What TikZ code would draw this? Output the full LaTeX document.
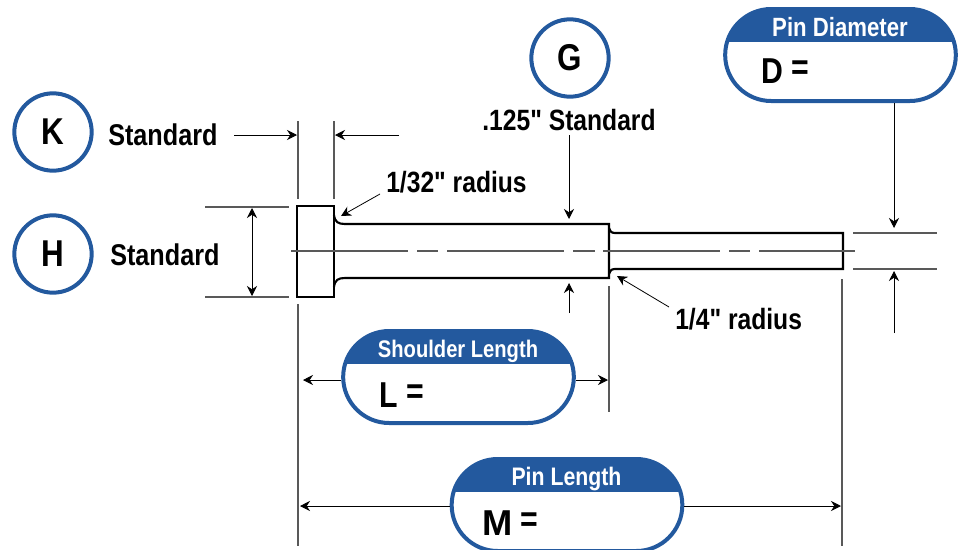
\documentclass[tikz,border=0pt]{standalone}
\usepackage{fontspec}
\setmainfont{Liberation Sans}[FakeStretch=0.84,Ligatures=TeXOff]
\usetikzlibrary{arrows.meta,shapes.misc}
\definecolor{pinblue}{HTML}{23599E}
\tikzset{
	outline/.style={line width=1.6pt, black},
	thin line/.style={line width=0.8pt, black!65},
	dim/.style={line width=0.6pt, black, -{Stealth[length=7.5pt,width=7.5pt]}},
	dimboth/.style={line width=0.6pt, black, {Stealth[length=7.5pt,width=7.5pt]}-{Stealth[length=7.5pt,width=7.5pt]}},
	label/.style={font=\bfseries\fontsize{22}{22}\selectfont, inner sep=0pt},
	stdlabel/.style={font=\bfseries\fontsize{22.5}{22.5}\selectfont, inner sep=0pt},
	title/.style={font=\bfseries\fontsize{#1}{#1}\selectfont, text=white, inner sep=0pt, anchor=base},
	letter/.style={font=\bfseries\fontsize{27}{27}\selectfont, inner sep=0pt},
	badge/.style={circle, draw=pinblue, line width=3pt, minimum size=58pt, inner sep=0pt, font=\bfseries\fontsize{28}{28}\selectfont},
	pill/.style={rounded rectangle, draw=pinblue, line width=3pt, minimum width=173pt, minimum height=69pt, inner sep=0pt,
		path picture={\fill[pinblue] (path picture bounding box.north west) rectangle ([yshift=-25pt]path picture bounding box.north east);}},
}
\newcommand{\raisedeq}{\raisebox{2.5pt}{=}}
\begin{document}
\begin{tikzpicture}[x=0.75pt, y=-0.75pt]
		\useasboundingbox (0, 0) rectangle (965, 550);

		%%%%% BADGES %%%%%
		\node[badge] (k) at (53, 132) {K};
		\node[badge] (h) at (53, 254) {H};
		\node[badge] (g) at (570, 58) {G};

		\node[stdlabel, anchor=west] (kstd) at (108, 135) {Standard};
		\node[stdlabel, anchor=west] (hstd) at (110, 255) {Standard};
		\node[label] (gstd) at (569, 120) {.125" Standard};
		\node[label, anchor=west] (rad32) at (386, 182) {1/32" radius};
		\node[label, anchor=west] (rad14) at (675, 319) {1/4" radius};

		%%%%% PIN %%%%%
		\draw[outline] (297, 206) rectangle (334, 297);
		\draw[outline] (334, 215) .. controls (335, 222) and (338, 224) .. (345, 224) -- (609, 224) -- (609, 278) -- (345, 278) .. controls (338, 278) and (335, 280) .. (334, 287);
		\draw[outline] (609, 228) .. controls (610, 231) and (611, 233) .. (615, 233) -- (843, 233) -- (843, 269) -- (615, 269) .. controls (611, 269) and (610, 271) .. (609, 274);
		\draw[thin line] (291, 251) -- (408, 251);
		\draw[thin line] (417, 251) -- (438, 251);
		\draw[thin line] (447, 251) -- (564, 251);
		\draw[thin line] (573, 251) -- (595, 251);
		\draw[thin line] (603, 251) -- (720, 251);
		\draw[thin line] (729, 251) -- (750, 251);
		\draw[thin line] (759, 251) -- (855, 251);

		%%%%% EXTENSION LINES %%%%%
		\draw[thin line] (298, 121) -- (298, 199);
		\draw[thin line] (334, 121) -- (334, 199);
		\draw[thin line] (205, 207) -- (289, 207);
		\draw[thin line] (205, 297) -- (289, 297);
		\draw[thin line] (298, 304) -- (298, 546);
		\draw[thin line] (609, 286) -- (609, 412);
		\draw[thin line] (842, 279) -- (842, 546);
		\draw[thin line] (853, 233) -- (937, 233);
		\draw[thin line] (853, 269) -- (937, 269);

		%%%%% PILLS %%%%%
		\node[pill] (dia) at (840.500, 55) {};
		\node[title=19.800] (diatitle) at (840, 36) {Pin Diameter};
		\node[letter, anchor=base west] (dialetter) at (761, 83) {D \raisedeq};

		\node[pill] (shoulder) at (458.500, 377) {};
		\node[title=18] (shouldertitle) at (458, 357) {Shoulder Length};
		\node[letter, anchor=base west] (shoulderletter) at (379, 407) {L \raisedeq};

		\node[pill] (len) at (567, 505) {};
		\node[title=19] (lentitle) at (566.500, 485) {Pin Length};
		\node[letter, anchor=base west] (lenletter) at (482, 535) {\scalebox{1.2}[1]{M} \raisedeq};

		%%%%% ARROWS %%%%%
		\coordinate (kleft) at (234, 135);
		\coordinate (kleftend) at (297, 135);
		\coordinate (kright) at (399, 135);
		\coordinate (krightend) at (335, 135);
		\draw[dim] (kleft) -- (kleftend);
		\draw[dim] (kright) -- (krightend);

		\coordinate (htop) at (252, 208);
		\coordinate (hbottom) at (252, 296);
		\draw[dimboth] (htop) -- (hbottom);

		\coordinate (gtopend) at (569, 219);
		\coordinate (gbottom) at (569, 313);
		\coordinate (gbottomend) at (569, 283);
		\draw[dim] (gstd.south -| gtopend) ++(0, 4) -- (gtopend);
		\draw[dim] (gbottom) -- (gbottomend);

		\coordinate (rad32end) at (341, 216);
		\coordinate (rad32start) at (380, 194);
		\draw[dim] (rad32start) -- (rad32end);
		\coordinate (rad14end) at (617, 276);
		\coordinate (rad14start) at (669, 307);
		\draw[dim] (rad14start) -- (rad14end);

		\coordinate (diatopend) at (894, 228);
		\coordinate (diabottom) at (894, 333);
		\coordinate (diabottomend) at (894, 271);
		\draw[dim] (dia.south -| diatopend) -- (diatopend);
		\draw[dim] (diabottom) -- (diabottomend);

		\coordinate (shoulderleft) at (303, 380);
		\coordinate (shoulderright) at (608, 380);
		\draw[dim] (shoulder.west |- shoulderleft) -- (shoulderleft);
		\draw[dim] (shoulder.east |- shoulderright) -- (shoulderright);

		\coordinate (lenleft) at (300, 506);
		\coordinate (lenright) at (841, 506);
		\draw[dim] (len.west |- lenleft) -- (lenleft);
		\draw[dim] (len.east |- lenright) -- (lenright);
	\end{tikzpicture}
\end{document}
